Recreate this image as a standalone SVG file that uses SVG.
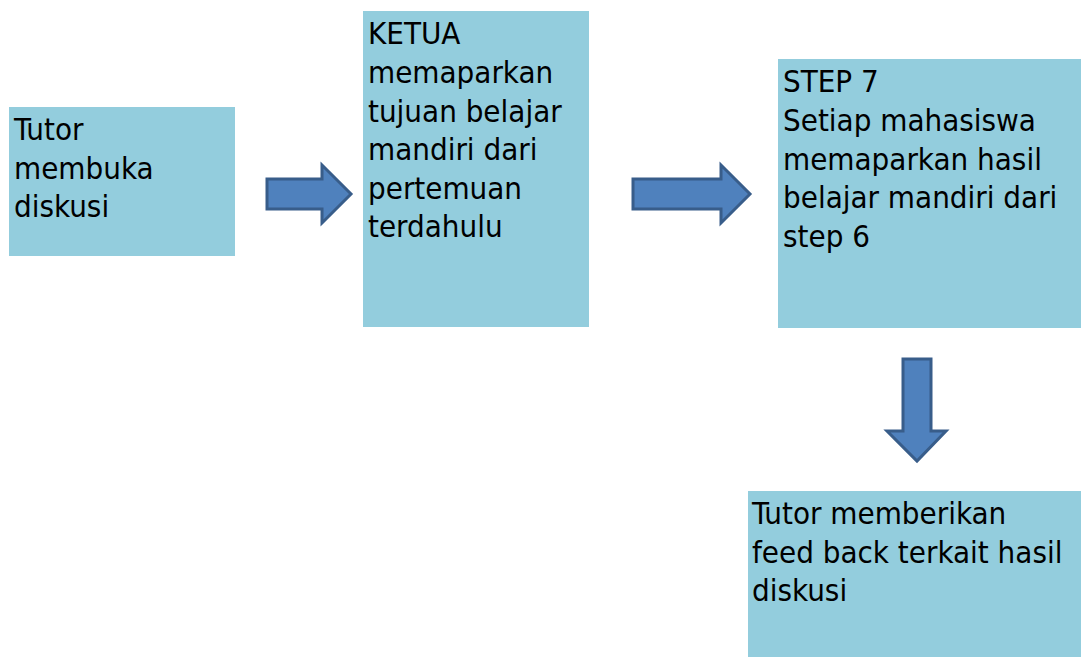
<svg xmlns="http://www.w3.org/2000/svg" width="1081" height="657" viewBox="0 0 1081 657">
<style>
.box{fill:#93CDDD;stroke:none}
.t{font-family:"DejaVu Sans Condensed","DejaVu Sans",sans-serif;font-size:31px;fill:#000}
.arr{fill:#4F81BD;stroke:#385D8A;stroke-width:3;stroke-linejoin:miter}
</style>
<rect width="1081" height="657" fill="#fff"/>
<g id="node-tutor-membuka">
<rect class="box" x="9" y="107" width="226" height="149"/>
<text class="t" x="14" y="140">Tutor</text>
<text class="t" x="14" y="178.5">membuka</text>
<text class="t" x="14" y="217">diskusi</text>
</g>
<g id="node-ketua">
<rect class="box" x="363" y="11" width="226" height="316"/>
<text class="t" x="368" y="44">KETUA</text>
<text class="t" x="368" y="83">memaparkan</text>
<text class="t" x="368" y="121.5">tujuan belajar</text>
<text class="t" x="368" y="160">mandiri dari</text>
<text class="t" x="368" y="198.5">pertemuan</text>
<text class="t" x="368" y="237">terdahulu</text>
</g>
<g id="node-step7">
<rect class="box" x="778" y="59" width="303" height="269"/>
<text class="t" x="783" y="92">STEP 7</text>
<text class="t" x="783" y="131">Setiap mahasiswa</text>
<text class="t" x="783" y="169.5">memaparkan hasil</text>
<text class="t" x="783" y="208">belajar mandiri dari</text>
<text class="t" x="783" y="246.5">step 6</text>
</g>
<g id="node-feedback">
<rect class="box" x="748" y="491" width="333" height="166"/>
<text class="t" x="752" y="524">Tutor memberikan</text>
<text class="t" x="752" y="562.5">feed back terkait hasil</text>
<text class="t" x="752" y="601">diskusi</text>
</g>
<g id="connectors">
<path class="arr" d="M267,179 H322 V165 L351,194 L322,223 V209 H267 Z"/>
<path class="arr" d="M633,179 H721 V165 L750,194 L721,223 V209 H633 Z"/>
<path class="arr" d="M903,359 H931 V431 H946 L917,461 L887,431 H903 Z"/>
</g>
</svg>
